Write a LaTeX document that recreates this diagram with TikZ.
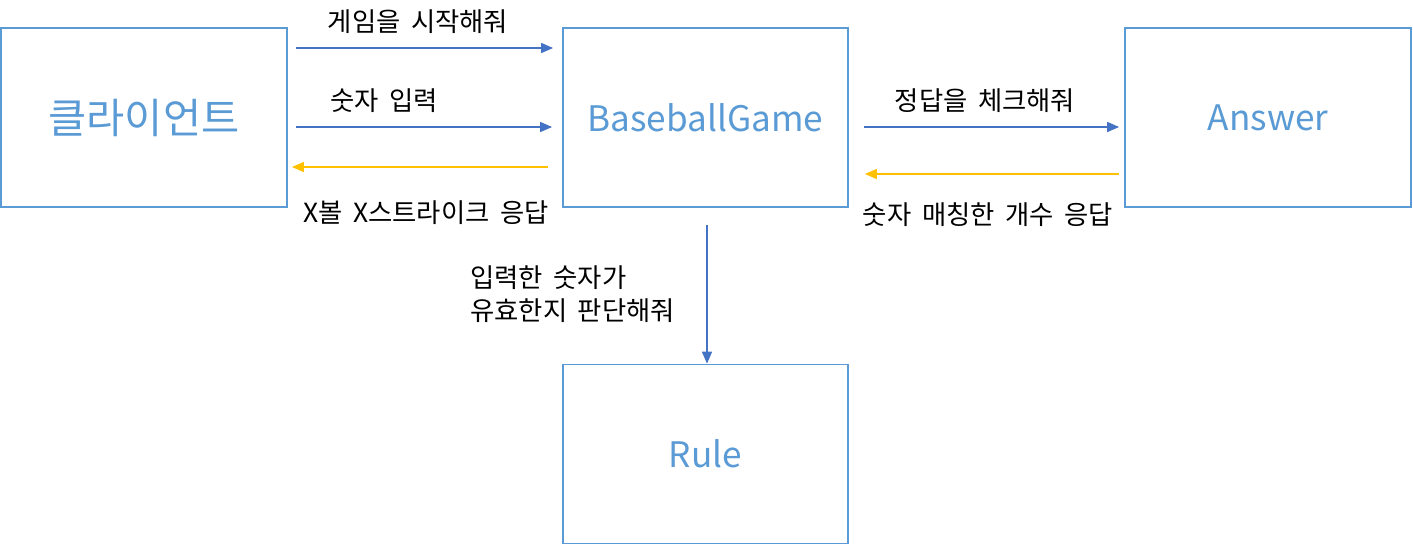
\documentclass[tikz,border=0pt]{standalone}
\usepackage{fontspec}
\setmainfont{Noto Sans CJK KR}[WordSpace=1.8]
\usepackage{xcolor}
\usetikzlibrary{arrows.meta,positioning}
\definecolor{boxblue}{HTML}{5B9BD5}
\definecolor{msgblue}{HTML}{4472C4}
\definecolor{replygold}{HTML}{FFC000}

\begin{document}
\begin{tikzpicture}[
  x=0.02cm,y=-0.02cm,
  font=\fontsize{15}{18.7}\selectfont,
  box/.style={draw=boxblue,line width=1.1pt,fill=white,text=boxblue,
    font=\fontsize{20}{24}\selectfont,minimum width=5.71cm,
    minimum height=3.58cm,inner sep=0pt},
  msg/.style={-{Triangle[length=6.8pt,width=5.8pt]},line width=0.6pt,draw=msgblue},
  reply/.style={-{Triangle[length=6.8pt,width=5.8pt]},line width=0.6pt,draw=replygold},
  lbl/.style={inner sep=0pt,align=left}
]
  \useasboundingbox (0,0) rectangle (1413,545);

  % Objects
  \node[box,font=\fontsize{23.6}{28}\selectfont] (client) at (144,117.5) {클라이언트};
  \node[box] (game) at (705.5,117.5) {BaseballGame};
  \node[box] (answer) at (1268,117.5) {Answer};
  \node[box] (rule) at (705.5,454) {Rule};

  % Message ends
  \coordinate (startA) at (296,48);
  \coordinate (endA) at (553,48);
  \coordinate (startB) at (296,127);
  \coordinate (endB) at (552,127);
  \coordinate (startC) at (548,167);
  \coordinate (endC) at (292,167);
  \coordinate (startD) at (864,127);
  \coordinate (endD) at (1119,127);
  \coordinate (startE) at (1119,174);
  \coordinate (endE) at (865,174);
  \coordinate (startF) at (707,225);

  % Client <-> BaseballGame
  \draw[msg] (startA) -- (endA);
  \draw[msg] (startB) -- (endB);
  \draw[reply] (startC) -- (endC);
  \node[lbl] (lblA) at (418,22) {게임을 시작해줘};
  \node[lbl] (lblB) at (384,101) {숫자 입력};
  \node[lbl] (lblC) at (426,213) {X볼 X스트라이크 응답};

  % BaseballGame <-> Answer
  \draw[msg] (startD) -- (endD);
  \draw[reply] (startE) -- (endE);
  \node[lbl] (lblD) at (985,101) {정답을 체크해줘};
  \node[lbl] (lblE) at (988,215) {숫자 매칭한 개수 응답};

  % BaseballGame -> Rule
  \draw[msg] (startF) -- (startF |- rule.north);
  \node[lbl,anchor=west] (lblF) at (470,294)
    {입력한 숫자가\\유효한지 판단해줘};
\end{tikzpicture}
\end{document}
